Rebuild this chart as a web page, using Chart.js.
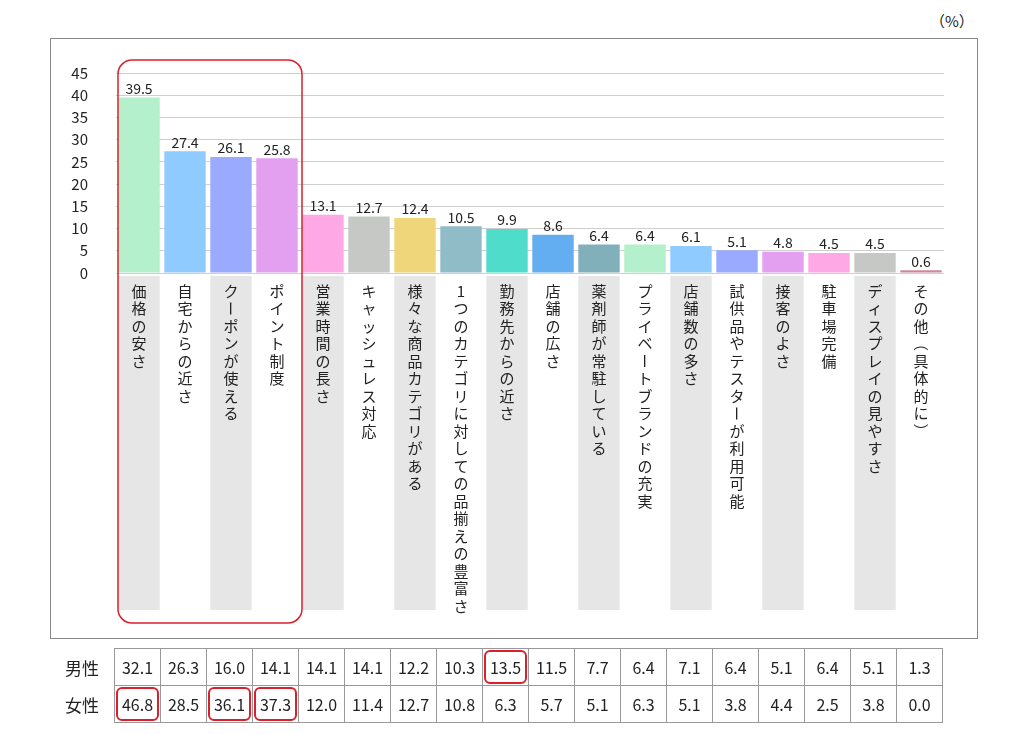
<!DOCTYPE html>
<html><head><meta charset="utf-8">
<script src="https://cdn.jsdelivr.net/npm/chart.js@4"></script>
<style>
body{margin:0;width:1024px;height:734px;position:relative;background:#fff;font-family:"Noto Sans CJK JP",sans-serif;overflow:hidden}
#frame{position:absolute;left:50px;top:38px;width:926px;height:599px;border:1px solid #888}
canvas{position:absolute;left:0;top:0}
#pct{position:absolute;left:930px;top:10px;font-size:15px;color:#222}
table{position:absolute;left:50px;top:648px;border-collapse:collapse;font-size:16px;color:#222}
td{height:36px;padding:0;text-align:center;border:1px solid #999;width:45px;position:relative}
td.lab{border:none;width:64px;font-size:17px}
td.hl::after{content:"";position:absolute;left:1px;top:1px;right:1px;bottom:1px;border:2px solid #d9202c;border-radius:6px}
</style></head><body>
<div id="frame"></div>
<div id="pct">（%）</div>
<canvas id="c" width="1024" height="734"></canvas>
<table id="t"></table>
<script>
const categories=["価格の安さ","自宅からの近さ","クーポンが使える","ポイント制度","営業時間の長さ","キャッシュレス対応","様々な商品カテゴリがある","1つのカテゴリに対しての品揃えの豊富さ","勤務先からの近さ","店舗の広さ","薬剤師が常駐している","プライベートブランドの充実","店舗数の多さ","試供品やテスターが利用可能","接客のよさ","駐車場完備","ディスプレイの見やすさ","その他（具体的に）"];
const totalValues=[39.5,27.4,26.1,25.8,13.1,12.7,12.4,10.5,9.9,8.6,6.4,6.4,6.1,5.1,4.8,4.5,4.5,0.6];
const maleValues=[32.1,26.3,16.0,14.1,14.1,14.1,12.2,10.3,13.5,11.5,7.7,6.4,7.1,6.4,5.1,6.4,5.1,1.3];
const femaleValues=[46.8,28.5,36.1,37.3,12.0,11.4,12.7,10.8,6.3,5.7,5.1,6.3,5.1,3.8,4.4,2.5,3.8,0.0];
const yTicks=[0,5,10,15,20,25,30,35,40,45];
const colors=['#b3f0cb','#8fcbff','#9aaaff','#e3a0f0','#ffa8e6','#c6c8c6','#f0d67a','#90bcc8','#4fdccb','#62aef0','#82b0ba','#b3f0cb','#8fcbff','#9aaaff','#e3a0f0','#ffa8e6','#c6c8c6','#d08898'];

// table
const t=document.getElementById('t');
[['男性',maleValues,[8]],['女性',femaleValues,[0,2,3]]].forEach(([n,vals,hl])=>{
  const tr=document.createElement('tr');
  tr.innerHTML='<td class="lab">'+n+'</td>'+vals.map((v,i)=>'<td'+(hl.includes(i)?' class="hl"':'')+'>'+v.toFixed(1)+'</td>').join('');
  t.appendChild(tr);
});

const rot=new Set(['ー','（','）']);
const deco={id:'deco',
 beforeDatasetsDraw(ch){
  const c=ch.ctx,x=ch.scales.x,y=ch.scales.y,w=x.width/categories.length;
  c.save();c.fillStyle='#e6e6e6';
  categories.forEach((s,i)=>{if(i%2===0){const px=x.getPixelForValue(i);c.fillRect(px-w*0.45,y.bottom+3,w*0.9,334);}});
  c.restore();
 },
 afterDraw(ch){
  const c=ch.ctx,x=ch.scales.x,y=ch.scales.y,w=x.width/categories.length;
  c.save();
  c.fillStyle='#222';c.font='14px "Noto Sans CJK JP"';c.textAlign='center';c.textBaseline='bottom';
  totalValues.forEach((v,i)=>c.fillText(v.toFixed(1),x.getPixelForValue(i),y.getPixelForValue(v)-2));
  c.font='15px "Noto Sans CJK JP"';c.textBaseline='middle';
  categories.forEach((s,i)=>{
    const px=x.getPixelForValue(i);let py=y.bottom+18;
    for(const ch2 of s){
      if(rot.has(ch2)){c.save();c.translate(px,py);c.rotate(Math.PI/2);c.fillText(ch2,0,0);c.restore();}
      else c.fillText(ch2,px,py);
      py+=17.5;
    }
  });
  // red rounded highlight
  const l=x.getPixelForValue(0)-w*0.5+2,r=x.getPixelForValue(3)+w*0.5+2;
  c.strokeStyle='#d9202c';c.lineWidth=1.5;c.beginPath();
  c.roundRect(l,y.getPixelForValue(45)-13,r-l,623-(y.getPixelForValue(45)-13),14);c.stroke();
  c.restore();
 }};

new Chart(document.getElementById('c'),{
 type:'bar',
 data:{labels:categories,datasets:[{data:totalValues,backgroundColor:colors,barPercentage:0.9,categoryPercentage:1}]},
 options:{responsive:false,animation:false,
  layout:{padding:{top:73,bottom:461,right:80,left:0}},
  plugins:{legend:{display:false},tooltip:{enabled:false}},
  scales:{
   x:{display:false},
   y:{min:0,max:45,afterFit:s=>{s.width=116},afterBuildTicks:s=>{s.ticks=yTicks.map(v=>({value:v}))},
      ticks:{color:'#222',font:{size:15,family:'"Noto Sans CJK JP"'},padding:28},
      grid:{color:'#cfcfcf',drawTicks:false},border:{display:false}}
  }},
 plugins:[deco]
});
</script>
</body></html>
